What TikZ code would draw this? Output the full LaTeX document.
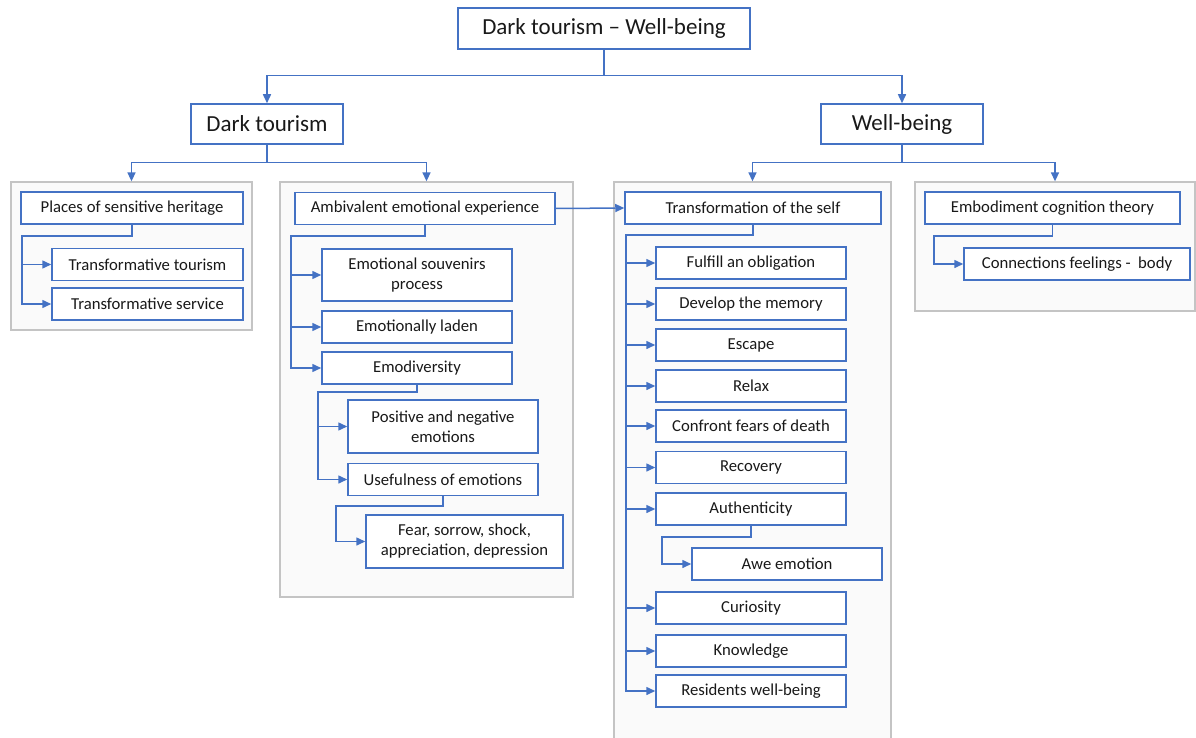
\documentclass[tikz,border=0pt]{standalone}
\usepackage{fontspec}
\setmainfont{Carlito}
\usetikzlibrary{arrows.meta}
\definecolor{boxblue}{HTML}{4472C4}
\definecolor{groupgrey}{HTML}{C4C4C4}
\definecolor{groupfill}{HTML}{FAFAFA}

\begin{document}
\begin{tikzpicture}[x=1pt,y=-1pt,
    link/.style={draw=boxblue,line width=1.5pt,-{Triangle[length=9pt,width=8pt]}},
    title node/.style={rectangle,draw=boxblue,fill=white,line width=1.5pt,
        text=black!90,font=\fontsize{23}{27}\selectfont,inner sep=0pt},
    item node/.style={rectangle,draw=boxblue,fill=white,line width=1.5pt,
        text=black!90,font=\fontsize{16.7}{20}\selectfont,align=center,inner sep=0pt,
        minimum width=190pt,minimum height=32pt},
    group node/.style={rectangle,draw=groupgrey,fill=groupfill,line width=1.3pt,inner sep=0pt}]

  \useasboundingbox (0,0) rectangle (1196,738);

  % top levels
  \node[title node,minimum width=292pt,minimum height=41pt] (root) at (604,28.5) {Dark tourism -- Well-being};
  \node[title node,minimum width=152pt,minimum height=40pt] (dt) at (267,124) {Dark tourism};
  \node[title node,minimum width=162pt,minimum height=40pt] (wb) at (902,124) {Well-being};

  % grey groups
  \node[group node,minimum width=241pt,minimum height=148pt] (g1) at (131.5,256) {};
  \node[group node,minimum width=293pt,minimum height=415pt] (g2) at (426.5,389.5) {};
  \node[group node,minimum width=277pt,minimum height=560pt] (g3) at (752.5,462) {};
  \node[group node,minimum width=280pt,minimum height=129pt] (g4) at (1055,246.5) {};

  % group 1
  \node[item node,minimum width=222pt] (places) at (132,208) {Places of sensitive heritage};
  \node[item node,minimum width=191pt] (ttour) at (147.5,264.5) {Transformative tourism};
  \node[item node,minimum width=191pt] (tserv) at (147.5,304) {Transformative service};

  % group 2
  \node[item node,minimum width=260pt] (amb) at (425,208.5) {Ambivalent emotional experience};
  \node[item node,minimum height=52pt] (souv) at (417,275) {Emotional souvenirs\\process};
  \node[item node] (laden) at (417,327) {Emotionally laden};
  \node[item node] (emod) at (417,368) {Emodiversity};
  \node[item node,minimum height=53pt] (posneg) at (443,426.5) {Positive and negative\\emotions};
  \node[item node] (useful) at (443,479.5) {Usefulness of emotions};
  \node[item node,minimum width=197pt,minimum height=53pt] (fear) at (464.5,541.5) {Fear, sorrow, shock,\\appreciation, depression};

  % group 3
  \node[item node,minimum width=256pt] (self) at (753,208) {Transformation of the self};
  \node[item node] (ful) at (751,263) {Fulfill an obligation};
  \node[item node] (dev) at (751,304) {Develop the memory};
  \node[item node] (esc) at (751,345) {Escape};
  \node[item node] (relax) at (751,386) {Relax};
  \node[item node] (conf) at (751,426) {Confront fears of death};
  \node[item node] (recov) at (751,467.5) {Recovery};
  \node[item node] (auth) at (751,509) {Authenticity};
  \node[item node] (awe) at (787,564) {Awe emotion};
  \node[item node] (cur) at (751,608) {Curiosity};
  \node[item node] (know) at (751,651) {Knowledge};
  \node[item node] (resid) at (751,691) {Residents well-being};

  % group 4
  \node[item node,minimum width=255pt] (emb) at (1052.5,208) {Embodiment cognition theory};
  \node[item node,minimum width=226pt] (conn) at (1077,264) {Connections feelings -\space\space body};

  % trunk corners
  \coordinate (t1) at (22,236);
  \coordinate (t2) at (291,236);
  \coordinate (t3) at (318,392);
  \coordinate (t4) at (336,506);
  \coordinate (t5) at (626,235);
  \coordinate (t6) at (662,537);
  \coordinate (t7) at (934,236);

  % links
  \draw[link] (root.south) -- ++(0,26) -| (dt.north);
  \draw[link] (root.south) -- ++(0,26) -| (wb.north);
  \draw[link] (dt.south) -- ++(0,18) -| (g1.north);
  \draw[link] (dt.south) -- ++(0,18) -| (g2.north);
  \draw[link] (wb.south) -- ++(0,18) -| (g3.north);
  \draw[link] (wb.south) -- ++(0,18) -| (g4.north);

  \draw[link] (places.south) |- (t1) |- (ttour.west);
  \draw[link] (t1) |- (tserv.west);

  \draw[link] (amb.south) |- (t2) |- (souv.west);
  \draw[link] (t2) |- (laden.west);
  \draw[link] (t2) |- (emod.west);
  \draw[link] (emod.south) |- (t3) |- (posneg.west);
  \draw[link] (t3) |- (useful.west);
  \draw[link] (useful.south) |- (t4) |- (fear.west);

  \draw[link] (amb.east) -- (self.west);

  \draw[link] (self.south) |- (t5) |- (ful.west);
  \draw[link] (t5) |- (dev.west);
  \draw[link] (t5) |- (esc.west);
  \draw[link] (t5) |- (relax.west);
  \draw[link] (t5) |- (conf.west);
  \draw[link] (t5) |- (recov.west);
  \draw[link] (t5) |- (auth.west);
  \draw[link] (t5) |- (cur.west);
  \draw[link] (t5) |- (know.west);
  \draw[link] (t5) |- (resid.west);
  \draw[link] (auth.south) |- (t6) |- (awe.west);

  \draw[link] (emb.south) |- (t7) |- (conn.west);
\end{tikzpicture}
\end{document}
